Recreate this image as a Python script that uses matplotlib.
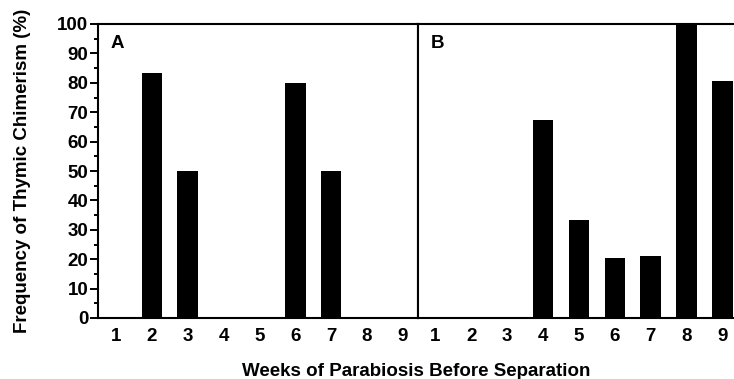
import numpy as np
import matplotlib
matplotlib.use('Agg')
import matplotlib.pyplot as plt
from matplotlib.ticker import MultipleLocator

plt.rcParams['font.family'] = ['Liberation Sans', 'DejaVu Sans']
plt.rcParams['font.weight'] = 'bold'

WEEKS = [1, 2, 3, 4, 5, 6, 7, 8, 9]
CHIMERISM_A = [0, 83.5, 50, 0, 0, 80, 50, 0, 0]
CHIMERISM_B = [0, 0, 0, 67.5, 33.5, 20.5, 21, 100, 80.5]
PANELS = ['A', 'B']

BAR_W = 0.57
LW = 1.5
FS = 13.5

fig = plt.figure(figsize=(7.34, 3.79), dpi=100, facecolor='white')
ax_a = fig.add_axes([98 / 734, 61 / 379, 320 / 734, 294 / 379])
ax_b = fig.add_axes([417.5 / 734, 61 / 379, 320 / 734, 294 / 379])

for ax, vals, tag in zip([ax_a, ax_b], [CHIMERISM_A, CHIMERISM_B], PANELS):
    ax.bar(WEEKS, vals, width=BAR_W, color='black', edgecolor='none', zorder=2)
    ax.set_xlim(0.5, 9.42)
    ax.set_ylim(0, 100)
    ax.set_xticks(WEEKS)
    ax.set_xticklabels([str(w) for w in WEEKS], fontsize=FS, fontweight='bold')
    ax.tick_params(axis='x', length=0, pad=7)
    for sp in ax.spines.values():
        sp.set_linewidth(LW)
        sp.set_color('black')
    ax.text(0.04, 0.935, tag, transform=ax.transAxes, fontsize=FS,
            fontweight='bold', ha='left', va='center')

ax_a.yaxis.set_major_locator(MultipleLocator(10))
ax_a.yaxis.set_minor_locator(MultipleLocator(5))
ax_a.tick_params(axis='y', which='major', length=6, width=1.4, pad=1,
                 labelsize=FS, direction='out')
ax_a.tick_params(axis='y', which='minor', length=3, width=1.4, direction='out')
for lab in ax_a.get_yticklabels():
    lab.set_fontweight('bold')
ax_a.set_ylabel('Frequency of Thymic Chimerism (%)', fontsize=FS,
                fontweight='bold', labelpad=19)

ax_b.set_yticks([])
ax_b.spines['right'].set_visible(False)

# shared x label, baseline kept just above the bottom edge
fig.text(416 / 734, 1 - 375.5 / 379, 'Weeks of Parabiosis Before Separation',
         ha='center', va='baseline', fontsize=FS, fontweight='bold')

fig.savefig('out.png', dpi=100, facecolor='white')
